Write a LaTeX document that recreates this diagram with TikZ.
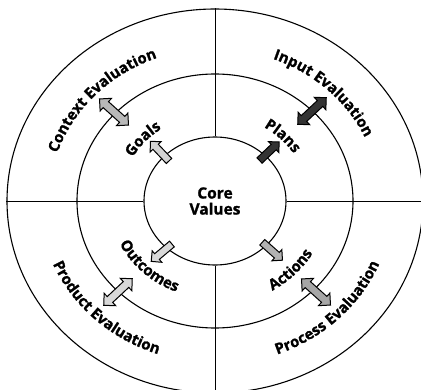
\documentclass[tikz,border=0pt]{standalone}
\usepackage{fontspec}
\setmainfont{Open Sans}[BoldFeatures={FakeBold=1.2}]
\usetikzlibrary{shapes.geometric,shapes.arrows,decorations.text}
\newcommand{\ringfont}{\bfseries\fontsize{15}{17}\selectfont}

\begin{document}
\begin{tikzpicture}[x=1pt,y=1pt]

        % Styles
        \tikzstyle{ring}=[ellipse,draw,line width=1.1pt,inner sep=0pt]
        \tikzstyle{spoke}=[line width=0.9pt]
        \tikzstyle{two way}=[double arrow,draw,line width=1pt,inner sep=3.5pt,double arrow head extend=4.5pt,minimum height=39pt]
        \tikzstyle{one way}=[single arrow,draw,line width=1pt,inner sep=3.2pt,single arrow head extend=3.8pt,minimum height=27pt]
        \tikzstyle{ring text}=[decorate,decoration={text along path,text align=center}]
        %frame
        \clip (-215,-188) rectangle (206,201);
        \fill[white] (-215,-188) rectangle (206,201);
        %rings
        \node[ring,minimum width=416pt,minimum height=384pt] (outer) at (0,0) {};
        \node[ring,minimum width=276pt,minimum height=254pt] (middle) at (0,0) {};
        \node[ring,minimum width=142pt,minimum height=128pt,align=center,
              font=\bfseries\fontsize{15.5}{16}\selectfont] (core) at (0,0) {Core\\Values};
        %spokes
        \draw[spoke] (core.north) -- (outer.north);
        \draw[spoke] (core.south) -- (outer.south);
        \draw[spoke] (core.west) -- (outer.west);
        \draw[spoke] (core.east) -- (outer.east);
        %outer labels
        \path[ring text,decoration={text={|\ringfont|Context Evaluation}}]
            (187:166 and 152.7) arc[start angle=187,end angle=87,x radius=166,y radius=152.7];
        \path[ring text,decoration={text={|\ringfont|Input Evaluation}}]
            (96:165 and 151.8) arc[start angle=96,end angle=-4,x radius=165,y radius=151.8];
        \path[ring text,decoration={text={|\ringfont|Process Evaluation}}]
            (-95:178 and 163.8) arc[start angle=-95,end angle=5,x radius=178,y radius=163.8];
        \path[ring text,decoration={text={|\ringfont|Product Evaluation}}]
            (176:176 and 161.9) arc[start angle=176,end angle=276,x radius=176,y radius=161.9];
        %inner labels
        \path[ring text,decoration={text={|\ringfont|Goals}}]
            (178:95 and 87.4) arc[start angle=178,end angle=98,x radius=95,y radius=87.4];
        \path[ring text,decoration={text={|\ringfont|Plans}}]
            (85:94 and 86.5) arc[start angle=85,end angle=5,x radius=94,y radius=86.5];
        \path[ring text,decoration={text={|\ringfont|Actions}}]
            (-84:113 and 104) arc[start angle=-84,end angle=-4,x radius=113,y radius=104];
        \path[ring text,decoration={text={|\ringfont|Outcomes}}]
            (186.6:106 and 97.5) arc[start angle=186.6,end angle=266.6,x radius=106,y radius=97.5];
        %arrows across the middle ring
        \foreach \name/\a/\x/\y/\c in {context/138/-101/89/gray!55, input/43/97/90/black!80,
                                       process/-42/101/-91/gray!70, product/223/-97/-91/gray!30}
            \node[two way,fill=\c,rotate=\a] (\name arrow) at (\x,\y) {};
        %arrows out of the core
        \foreach \name/\a/\x/\y/\c in {goals/133.5/-54/48.5/gray!35, plans/43.5/53/48.5/black!80,
                                       actions/-41.6/56/-49/gray!60, outcomes/220/-52/-50.5/gray!30}
            \node[one way,fill=\c,rotate=\a] (\name arrow) at (\x,\y) {};
\end{tikzpicture}
\end{document}
